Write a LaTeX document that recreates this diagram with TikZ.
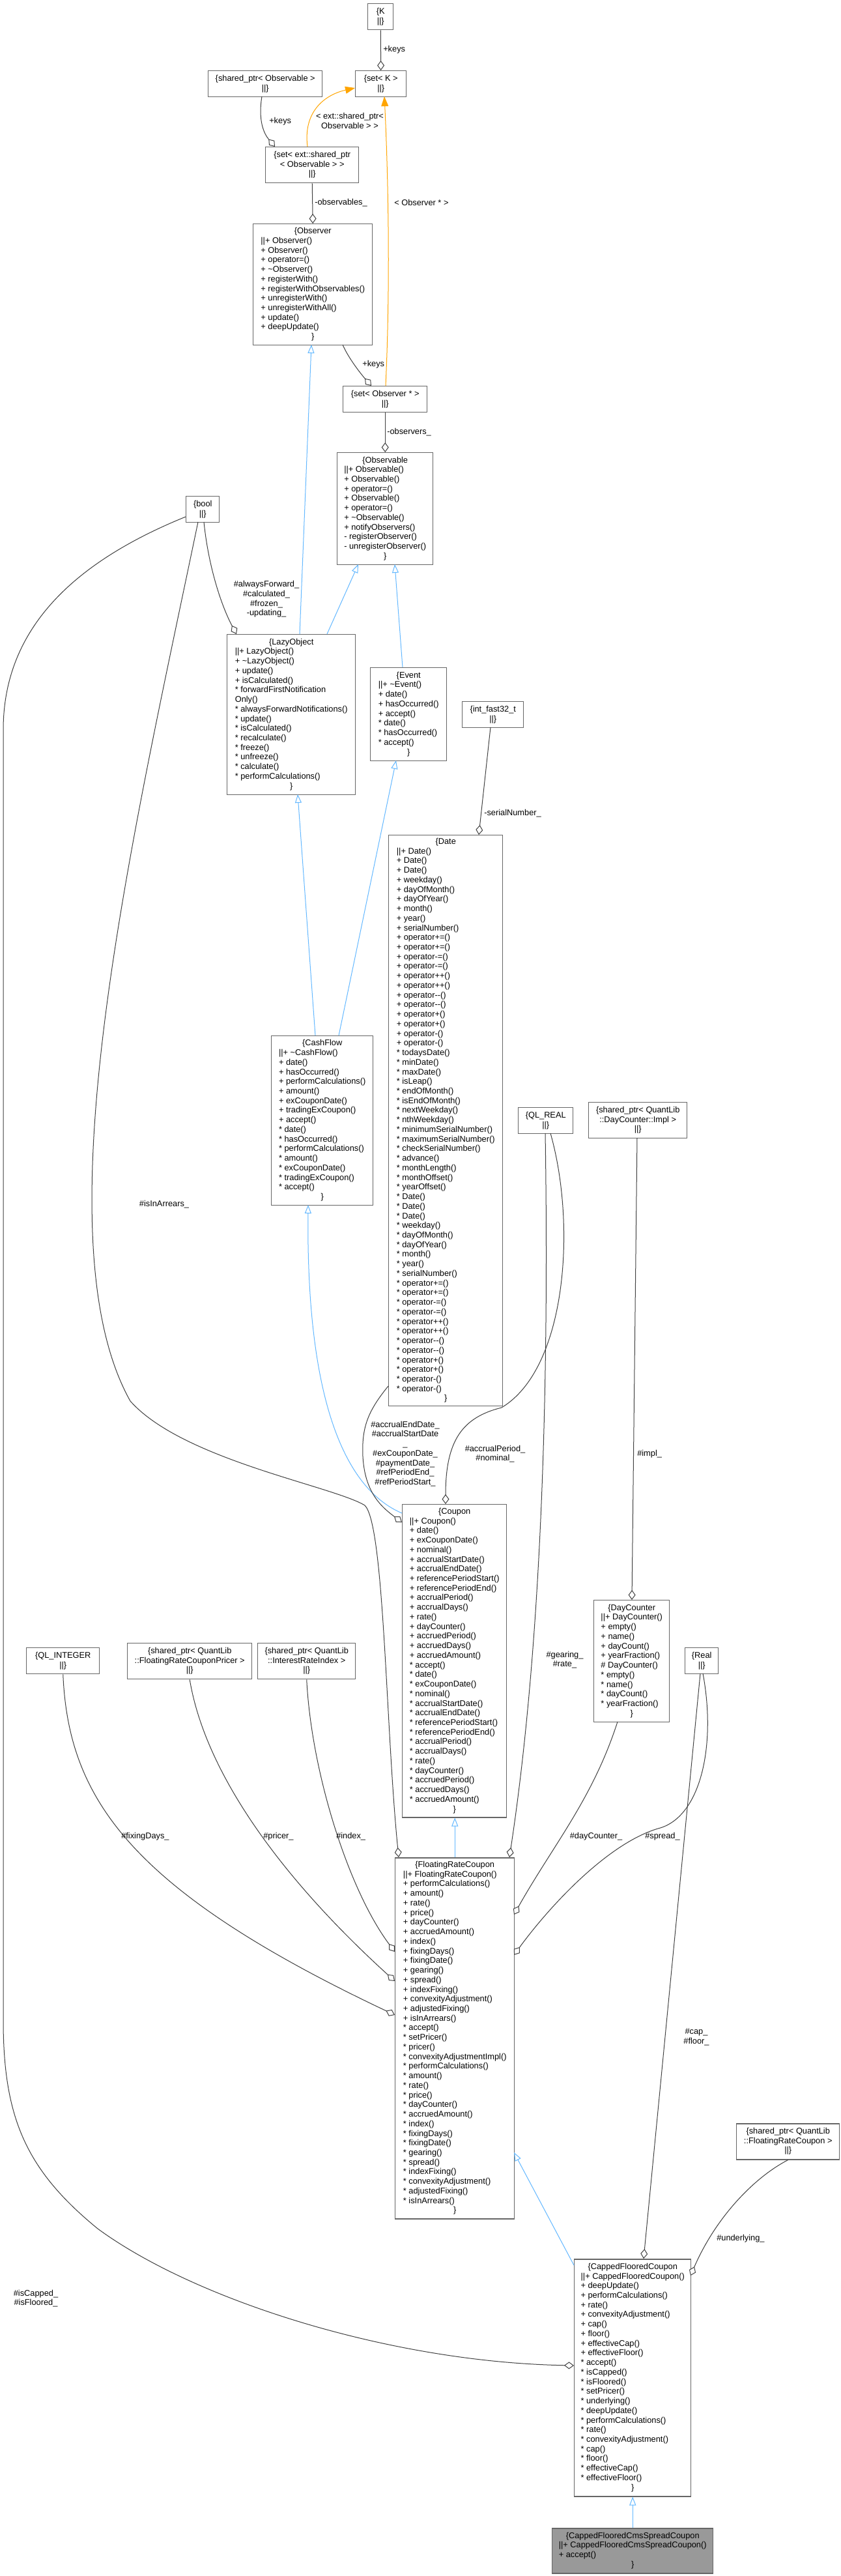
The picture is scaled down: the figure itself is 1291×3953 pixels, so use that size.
\documentclass[tikz,border=0pt]{standalone}
\usepackage{fontspec}
\setmainfont{Liberation Sans}
\usetikzlibrary{arrows.meta,calc}
\definecolor{boxc}{HTML}{666666}
\definecolor{edgec}{HTML}{404040}
\definecolor{inhc}{HTML}{63B8FF}
\definecolor{tmplc}{HTML}{FFA500}
\definecolor{curc}{HTML}{999999}
\newcommand{\hd}[1]{\multicolumn{1}{@{}c@{}}{#1}}
\newcommand{\fs}{\fontsize{9.6pt}{11.05pt}\selectfont}
\tikzset{
  wh/.style 2 args={minimum width=#1*0.75pt,minimum height=#2*0.75pt},
  cls/.style={draw=boxc,line width=1.1pt,fill=white,inner sep=0pt,anchor=north west,text=black},
  agg/.style={draw=edgec,line width=0.75pt,-{Diamond[fill=white,length=11.25pt,width=8.25pt]}},
  inh/.style={draw=inhc,line width=0.75pt,-{Triangle[open,length=9.75pt,width=7.5pt]}},
  tmpl/.style={draw=tmplc,line width=0.75pt,-{Triangle[length=11.25pt,width=8.25pt]}},
  lab/.style={inner sep=0pt,text=black,align=center},
  labw/.style={inner sep=0pt,text=black,anchor=west}
}
\begin{document}
\begin{tikzpicture}[x=0.75pt,y=-0.75pt,font=\fs]
\useasboundingbox (0,0) rectangle (1291,3953);
\fill[white] (0,0) rectangle (1291,3953);

% ---------- nodes ----------
\node[cls,wh={39}{40}] (K) at (564,5) {\begin{tabular}{@{}c@{}}\{K\\ ||\}\end{tabular}};
\node[cls,wh={78}{40}] (setK) at (545,108) {\begin{tabular}{@{}c@{}}\{set< K >\\ ||\}\end{tabular}};
\node[cls,wh={175}{40}] (spObs) at (319,108) {\begin{tabular}{@{}c@{}}\{shared\_ptr< Observable >\\ ||\}\end{tabular}};
\node[cls,wh={143}{55}] (setExt) at (407,225) {\begin{tabular}{@{}c@{}}\{set< ext::shared\_ptr\\ < Observable > >\\ ||\}\end{tabular}};
\node[cls,wh={183}{186}] (Observer) at (388,343) {\begin{tabular}{@{}l@{}}\hd{\{Observer}\\ ||+ Observer()\\ + Observer()\\ + operator=()\\ + \textasciitilde Observer()\\ + registerWith()\\ + registerWithObservables()\\ + unregisterWith()\\ + unregisterWithAll()\\ + update()\\ + deepUpdate()\\ \hd{\}}\end{tabular}};
\node[cls,wh={129}{40}] (setObsP) at (526,592) {\begin{tabular}{@{}c@{}}\{set< Observer * >\\ ||\}\end{tabular}};
\node[cls,wh={147}{172}] (Observable) at (517,694) {\begin{tabular}{@{}l@{}}\hd{\{Observable}\\ ||+ Observable()\\ + Observable()\\ + operator=()\\ + Observable()\\ + operator=()\\ + \textasciitilde Observable()\\ + notifyObservers()\\ - registerObserver()\\ - unregisterObserver()\\ \hd{\}}\end{tabular}};
\node[cls,wh={51}{40}] (bool) at (285,761) {\begin{tabular}{@{}c@{}}\{bool\\ ||\}\end{tabular}};
\node[cls,wh={197}{246}] (LazyObject) at (348,973) {\begin{tabular}{@{}l@{}}\hd{\{LazyObject}\\ ||+ LazyObject()\\ + \textasciitilde LazyObject()\\ + update()\\ + isCalculated()\\{}* forwardFirstNotification\\ Only()\\{}* alwaysForwardNotifications()\\{}* update()\\{}* isCalculated()\\{}* recalculate()\\{}* freeze()\\{}* unfreeze()\\{}* calculate()\\{}* performCalculations()\\ \hd{\}}\end{tabular}};
\node[cls,wh={117}{143}] (Event) at (568,1024) {\begin{tabular}{@{}l@{}}\hd{\{Event}\\ ||+ \textasciitilde Event()\\ + date()\\ + hasOccurred()\\ + accept()\\{}* date()\\{}* hasOccurred()\\{}* accept()\\ \hd{\}}\end{tabular}};
\node[cls,wh={94}{40}] (intfast) at (709,1076) {\begin{tabular}{@{}c@{}}\{int\_fast32\_t\\ ||\}\end{tabular}};
\node[cls,wh={175}{876}] (Date) at (596,1281) {\begin{tabular}{@{}l@{}}\hd{\{Date}\\ ||+ Date()\\ + Date()\\ + Date()\\ + weekday()\\ + dayOfMonth()\\ + dayOfYear()\\ + month()\\ + year()\\ + serialNumber()\\ + operator+=()\\ + operator+=()\\ + operator-=()\\ + operator-=()\\ + operator++()\\ + operator++()\\ + operator-{}-()\\ + operator-{}-()\\ + operator+()\\ + operator+()\\ + operator-()\\ + operator-()\\{}* todaysDate()\\{}* minDate()\\{}* maxDate()\\{}* isLeap()\\{}* endOfMonth()\\{}* isEndOfMonth()\\{}* nextWeekday()\\{}* nthWeekday()\\{}* minimumSerialNumber()\\{}* maximumSerialNumber()\\{}* checkSerialNumber()\\{}* advance()\\{}* monthLength()\\{}* monthOffset()\\{}* yearOffset()\\{}* Date()\\{}* Date()\\{}* Date()\\{}* weekday()\\{}* dayOfMonth()\\{}* dayOfYear()\\{}* month()\\{}* year()\\{}* serialNumber()\\{}* operator+=()\\{}* operator+=()\\{}* operator-=()\\{}* operator-=()\\{}* operator++()\\{}* operator++()\\{}* operator-{}-()\\{}* operator-{}-()\\{}* operator+()\\{}* operator+()\\{}* operator-()\\{}* operator-()\\ \hd{\}}\end{tabular}};
\node[cls,wh={156}{260}] (CashFlow) at (416,1589) {\begin{tabular}{@{}l@{}}\hd{\{CashFlow}\\ ||+ \textasciitilde CashFlow()\\ + date()\\ + hasOccurred()\\ + performCalculations()\\ + amount()\\ + exCouponDate()\\ + tradingExCoupon()\\ + accept()\\{}* date()\\{}* hasOccurred()\\{}* performCalculations()\\{}* amount()\\{}* exCouponDate()\\{}* tradingExCoupon()\\{}* accept()\\ \hd{\}}\end{tabular}};
\node[cls,wh={84}{40}] (QLREAL) at (795,1699) {\begin{tabular}{@{}c@{}}\{QL\_REAL\\ ||\}\end{tabular}};
\node[cls,wh={151}{55}] (spDCImpl) at (903,1691) {\begin{tabular}{@{}c@{}}\{shared\_ptr< QuantLib\\ ::DayCounter::Impl >\\ ||\}\end{tabular}};
\node[cls,wh={160}{480}] (Coupon) at (617,2308) {\begin{tabular}{@{}l@{}}\hd{\{Coupon}\\ ||+ Coupon()\\ + date()\\ + exCouponDate()\\ + nominal()\\ + accrualStartDate()\\ + accrualEndDate()\\ + referencePeriodStart()\\ + referencePeriodEnd()\\ + accrualPeriod()\\ + accrualDays()\\ + rate()\\ + dayCounter()\\ + accruedPeriod()\\ + accruedDays()\\ + accruedAmount()\\{}* accept()\\{}* date()\\{}* exCouponDate()\\{}* nominal()\\{}* accrualStartDate()\\{}* accrualEndDate()\\{}* referencePeriodStart()\\{}* referencePeriodEnd()\\{}* accrualPeriod()\\{}* accrualDays()\\{}* rate()\\{}* dayCounter()\\{}* accruedPeriod()\\{}* accruedDays()\\{}* accruedAmount()\\ \hd{\}}\end{tabular}};
\node[cls,wh={116}{187}] (DayCounter) at (911,2455) {\begin{tabular}{@{}l@{}}\hd{\{DayCounter}\\ ||+ DayCounter()\\ + empty()\\ + name()\\ + dayCount()\\ + yearFraction()\\ \# DayCounter()\\{}* empty()\\{}* name()\\{}* dayCount()\\{}* yearFraction()\\ \hd{\}}\end{tabular}};
\node[cls,wh={112}{40}] (QLINT) at (40,2528) {\begin{tabular}{@{}c@{}}\{QL\_INTEGER\\ ||\}\end{tabular}};
\node[cls,wh={191}{55}] (spPricer) at (195,2521) {\begin{tabular}{@{}c@{}}\{shared\_ptr< QuantLib\\ ::FloatingRateCouponPricer >\\ ||\}\end{tabular}};
\node[cls,wh={150}{55}] (spIndex) at (395,2521) {\begin{tabular}{@{}c@{}}\{shared\_ptr< QuantLib\\ ::InterestRateIndex >\\ ||\}\end{tabular}};
\node[cls,wh={51}{40}] (Real) at (1051,2528) {\begin{tabular}{@{}c@{}}\{Real\\ ||\}\end{tabular}};
\node[cls,wh={183}{554}] (FRC) at (606,2850) {\begin{tabular}{@{}l@{}}\hd{\{FloatingRateCoupon}\\ ||+ FloatingRateCoupon()\\ + performCalculations()\\ + amount()\\ + rate()\\ + price()\\ + dayCounter()\\ + accruedAmount()\\ + index()\\ + fixingDays()\\ + fixingDate()\\ + gearing()\\ + spread()\\ + indexFixing()\\ + convexityAdjustment()\\ + adjustedFixing()\\ + isInArrears()\\{}* accept()\\{}* setPricer()\\{}* pricer()\\{}* convexityAdjustmentImpl()\\{}* performCalculations()\\{}* amount()\\{}* rate()\\{}* price()\\{}* dayCounter()\\{}* accruedAmount()\\{}* index()\\{}* fixingDays()\\{}* fixingDate()\\{}* gearing()\\{}* spread()\\{}* indexFixing()\\{}* convexityAdjustment()\\{}* adjustedFixing()\\{}* isInArrears()\\ \hd{\}}\end{tabular}};
\node[cls,wh={158}{55}] (spFRC) at (1130,3258) {\begin{tabular}{@{}c@{}}\{shared\_ptr< QuantLib\\ ::FloatingRateCoupon >\\ ||\}\end{tabular}};
\node[cls,wh={179}{364}] (CFC) at (881,3466) {\begin{tabular}{@{}l@{}}\hd{\{CappedFlooredCoupon}\\ ||+ CappedFlooredCoupon()\\ + deepUpdate()\\ + performCalculations()\\ + rate()\\ + convexityAdjustment()\\ + cap()\\ + floor()\\ + effectiveCap()\\ + effectiveFloor()\\{}* accept()\\{}* isCapped()\\{}* isFloored()\\{}* setPricer()\\{}* underlying()\\{}* deepUpdate()\\{}* performCalculations()\\{}* rate()\\{}* convexityAdjustment()\\{}* cap()\\{}* floor()\\{}* effectiveCap()\\{}* effectiveFloor()\\ \hd{\}}\end{tabular}};
\node[cls,wh={247}{69},fill=curc] (Cms) at (847,3879) {\begin{tabular}{@{}l@{}}\hd{\{CappedFlooredCmsSpreadCoupon}\\ ||+ CappedFlooredCmsSpreadCoupon()\\ + accept()\\ \hd{\}}\end{tabular}};

% ---------- edges ----------
\draw[agg] (K) -- (setK);
\draw[agg] ($(spObs.north west)+(83,40)$) .. controls (396,185) and (405,205) .. ($(setExt.north west)+(15,0)$);
\draw[tmpl] ($(setExt.north west)+(65,0)$) .. controls (465,170) and (500,145) .. ($(setK.north west)+(0,27)$);
\draw[tmpl] ($(setObsP.north west)+(66,0)$) .. controls (600,420) and (595,250) .. ($(setK.north west)+(45,40)$);
\draw[agg] (setExt.south) -- (Observer.north);
\draw[agg] ($(Observer.north west)+(138,186)$) .. controls (535,550) and (555,575) .. ($(setObsP.north west)+(44,0)$);
\draw[agg] (setObsP.south) -- (Observable.north);
\draw[inh] ($(LazyObject.north west)+(112,0)$) -- ($(Observer.north west)+(90,186)$);
\draw[inh] ($(LazyObject.north west)+(154,0)$) -- ($(Observable.north west)+(33,172)$);
\draw[inh] ($(Event.north west)+(50,0)$) -- ($(Observable.north west)+(89,172)$);
\draw[agg] ($(bool.north west)+(28,40)$) .. controls (320,870) and (340,930) .. ($(LazyObject.north west)+(15,0)$);
\draw[agg] ($(intfast.north west)+(44,40)$) -- ($(Date.north west)+(139,0)$);
\draw[inh] ($(CashFlow.north west)+(68,0)$) -- ($(LazyObject.north west)+(109,246)$);
\draw[inh] ($(CashFlow.north west)+(104,0)$) -- ($(Event.north west)+(40,143)$);
\draw[inh] ($(Coupon.north west)+(0,14)$) .. controls (530,2285) and (470,2150) .. ($(CashFlow.north west)+(57,260)$);
\draw[agg] ($(Date.north west)+(0,846)$) .. controls (565,2165) and (555,2190) .. (557,2235) .. controls (560,2290) and (585,2312) .. ($(Coupon.north west)+(0,28)$);
\draw[agg] ($(QLREAL.north west)+(50,40)$) .. controls (885,1880) and (870,2100) .. (770,2160) .. controls (710,2175) and (684,2210) .. ($(Coupon.north west)+(67,0)$);
\draw[agg] ($(QLREAL.north west)+(42,40)$) .. controls (845,2250) and (820,2600) .. ($(FRC.north west)+(176,0)$);
\draw[agg] ($(spDCImpl.north west)+(75,55)$) -- ($(DayCounter.north west)+(59,0)$);
\draw[agg] ($(DayCounter.north west)+(37,187)$) .. controls (910,2760) and (850,2830) .. ($(FRC.north west)+(183,88)$);
\draw[agg] ($(Real.north west)+(28,40)$) .. controls (1100,2680) and (1075,2790) .. (1010,2806) .. controls (930,2830) and (840,2930) .. ($(FRC.north west)+(183,150)$);
\draw[agg] ($(Real.north west)+(24,40)$) -- ($(CFC.north west)+(107,0)$);
\draw[agg] (spFRC.south) .. controls (1160,3340) and (1100,3400) .. ($(CFC.north west)+(179,26)$);
\draw[agg] ($(bool.north west)+(0,32)$) .. controls (120,860) and (5,960) .. (5,1120) -- (5,3100) .. controls (5,3250) and (40,3330) .. (150,3420) .. controls (300,3530) and (600,3625) .. ($(CFC.north west)+(0,164)$);
\draw[agg] ($(bool.north west)+(19,40)$) .. controls (200,1300) and (60,1900) .. (200,2150) .. controls (280,2240) and (510,2280) .. (560,2310) .. controls (590,2340) and (592,2650) .. ($(FRC.north west)+(6,0)$);
\draw[agg] (QLINT.south) .. controls (105,2760) and (200,2900) .. ($(FRC.north west)+(0,242)$);
\draw[agg] (spPricer.south) .. controls (315,2720) and (430,2880) .. ($(FRC.north west)+(0,190)$);
\draw[agg] (spIndex.south) .. controls (478,2720) and (535,2900) .. ($(FRC.north west)+(0,145)$);
\draw[inh] (FRC.north) -- (FRC.north |- Coupon.south);
\draw[inh] ($(CFC.north west)+(0,10)$) -- ($(FRC.north west)+(183,453)$);
\draw[inh] (Cms.north) -- (Cms.north |- CFC.south);

% ---------- labels ----------
\node[labw] (lk1) at (588,76) {+keys};
\node[labw] (lk2) at (413,186) {+keys};
\node[lab] (lt1) at (537,185.5) {< ext::shared\_ptr<\\Observable > >};
\node[labw] (lobs) at (483,311) {-observables\_};
\node[labw] (lt2) at (605,311) {< Observer * >};
\node[labw] (lk3) at (556,559) {+keys};
\node[labw] (lobsv) at (594,663) {-observers\_};
\node[lab] (lbool) at (409,919.5) {\#alwaysForward\_\\\#calculated\_\\\#frozen\_\\-updating\_};
\node[labw] (lser) at (743,1248) {-serialNumber\_};
\node[lab] (larr) at (252,1848) {\#isInArrears\_};
\node[lab] (ldate) at (622,2231) {\#accrualEndDate\_\\\#accrualStartDate\\\_\\\#exCouponDate\_\\\#paymentDate\_\\\#refPeriodEnd\_\\\#refPeriodStart\_};
\node[lab] (lacc) at (760,2231) {\#accrualPeriod\_\\\#nominal\_};
\node[labw] (limpl) at (978,2231) {\#impl\_};
\node[lab] (lgear) at (867,2547) {\#gearing\_\\\#rate\_};
\node[labw] (lfix) at (186,2818) {\#fixingDays\_};
\node[labw] (lpr) at (404,2818) {\#pricer\_};
\node[labw] (lidx) at (516,2818) {\#index\_};
\node[lab] (ldc) at (915,2818) {\#dayCounter\_};
\node[lab] (lspr) at (1017,2818) {\#spread\_};
\node[lab] (lcap) at (1069,3126) {\#cap\_\\\#floor\_};
\node[labw] (lund) at (1100,3435) {\#underlying\_};
\node[lab] (lisc) at (55,3527) {\#isCapped\_\\\#isFloored\_};
\end{tikzpicture}
\end{document}
